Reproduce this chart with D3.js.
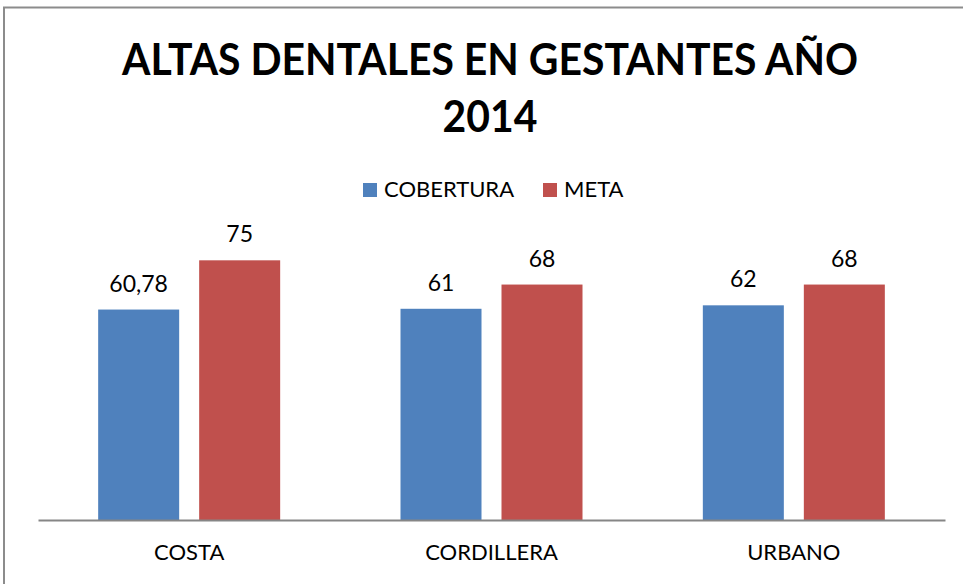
<!DOCTYPE html>
<html>
<head>
<meta charset="utf-8">
<script src="https://cdn.jsdelivr.net/npm/d3@7"></script>
<style>
  html, body { margin: 0; padding: 0; background: #fff; overflow: hidden; }
  text { font-family: Lato, "Open Sans", sans-serif; }
</style>
</head>
<body>
<svg width="963" height="584"></svg>
<script>
const titleLines = ["ALTAS DENTALES EN GESTANTES AÑO", "2014"];
const categories = ["COSTA", "CORDILLERA", "URBANO"];
const seriesNames = ["COBERTURA", "META"];
const cobertura = [60.78, 61, 62];
const meta = [75, 68, 68];
const valueLabels = [["60,78", "61", "62"], ["75", "68", "68"]];
const colors = ["#4f81bd", "#c0504d"];
const yDomain = [0, 80];

const svg = d3.select("svg");

// Chart frame (only top and left edges fall inside the picture)
svg.append("rect")
    .attr("x", 4).attr("y", 7.5)
    .attr("width", 990).attr("height", 620)
    .attr("fill", "none")
    .attr("stroke", "#8c8c8c")
    .attr("stroke-width", 2);

// Title - squeezed a bit, the original font is narrower than Lato
svg.selectAll(".title")
    .data(titleLines)
    .enter().append("text")
    .attr("class", "title")
    .attr("transform", (d, i) => `translate(490,${75 + i * 57}) scale(0.93,1)`)
    .attr("text-anchor", "middle")
    .attr("font-weight", "bold")
    .attr("font-size", 44)
    .attr("fill", "#000")
    .text(d => d);

// Scales
const groupWidth = 182;
const x0 = d3.scaleBand().domain(categories).range([38, 945]);
const x1 = d3.scaleBand().domain(seriesNames).range([0, groupWidth]).paddingInner(0.198);
const y = d3.scaleLinear().domain(yDomain).range([520, 243]);

const series = [cobertura, meta];
const barX = (i, s) => x0(categories[i]) + (x0.bandwidth() - groupWidth) / 2 + x1(seriesNames[s]);

// Bars + value labels
series.forEach((vals, s) => {
    svg.selectAll(".bar" + s)
        .data(vals)
        .enter().append("rect")
        .attr("x", (d, i) => barX(i, s))
        .attr("y", d => y(d))
        .attr("width", x1.bandwidth())
        .attr("height", d => y(0) - y(d))
        .attr("fill", colors[s]);

    svg.selectAll(".lbl" + s)
        .data(vals)
        .enter().append("text")
        .attr("x", (d, i) => barX(i, s) + x1.bandwidth() / 2)
        .attr("y", d => y(d) - 18)
        .attr("text-anchor", "middle")
        .attr("font-size", 23)
        .attr("fill", "#000")
        .text((d, i) => valueLabels[s][i]);
});

// X axis
const xAxis = svg.append("g")
    .attr("transform", "translate(0,520)")
    .call(d3.axisBottom(x0).tickSize(0).tickPadding(24));
xAxis.select(".domain").attr("stroke", "#868686").attr("stroke-width", 2);
xAxis.selectAll("text")
    .attr("font-family", "Lato, sans-serif")
    .attr("font-size", 22)
    .attr("fill", "#000");

// Legend
const legendPos = [363, 543];
const legend = svg.selectAll(".legend")
    .data(seriesNames)
    .enter().append("g")
    .attr("transform", (d, i) => `translate(${legendPos[i]},183)`);
legend.append("rect")
    .attr("width", 14).attr("height", 14)
    .attr("fill", (d, i) => colors[i]);
legend.append("text")
    .attr("x", 21).attr("y", 14)
    .attr("font-size", 22)
    .attr("fill", "#000")
    .text(d => d);
</script>
</body>
</html>
